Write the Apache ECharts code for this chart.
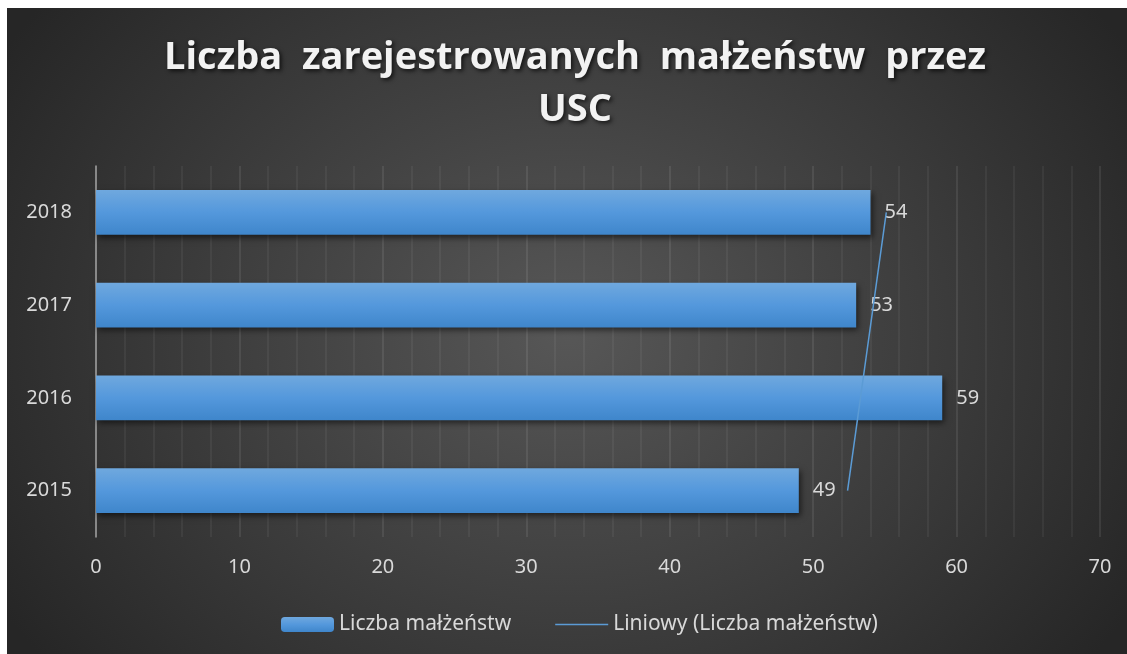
<!DOCTYPE html>
<html>
<head>
<meta charset="utf-8">
<script src="https://cdn.jsdelivr.net/npm/echarts@6/dist/echarts.min.js"></script>
<style>
  html, body { margin: 0; padding: 0; background: #fff; }
  #chart {
    position: absolute; left: 7px; top: 8px; width: 1120px; height: 646px;
    background: radial-gradient(660px 540px at 50% 50%, #575757 0%, #3a3a3a 60%, #262626 100%);
  }
</style>
</head>
<body>
<div id="chart"></div>
<script>
// dane
var years = ['2015', '2016', '2017', '2018'];
var marriages = [49, 59, 53, 54];
// linia trendu (liniowy)
var trend = [52.4, 53.3, 54.2, 55.1];
var xTicks = { min: 0, max: 70, step: 10 };

var chart = echarts.init(document.getElementById('chart'));

var labelColor = '#d9d9d9';
var font = 'Noto Sans';

var option = {
  backgroundColor: 'transparent',
  title: {
    text: 'Liczba  zarejestrowanych  małżeństw  przez\nUSC',
    left: 563,
    textAlign: 'center',
    top: 19,
    textStyle: {
      fontFamily: 'Open Sans',
      fontWeight: 'bold',
      fontSize: 38,
      lineHeight: 52,
      color: '#f2f2f2',
      textShadowColor: 'rgba(0,0,0,0.7)',
      textShadowBlur: 4,
      textShadowOffsetX: 2,
      textShadowOffsetY: 2
    }
  },
  legend: {
    bottom: 14,
    left: 269,
    itemWidth: 53,
    itemHeight: 15,
    itemGap: 44,
    textStyle: { color: labelColor, fontSize: 21, fontFamily: font },
    data: [
      { name: 'Liczba małżeństw' },
      { name: 'Liniowy (Liczba małżeństw)', icon: 'path://M0,0H53V1.6H0Z' }
    ]
  },
  grid: { left: 89, right: 27, top: 158, bottom: 117, containLabel: false },
  xAxis: {
    type: 'value',
    min: xTicks.min,
    max: xTicks.max,
    interval: xTicks.step,
    axisLine: { show: false },
    axisTick: { show: false },
    axisLabel: { color: labelColor, fontSize: 20, fontFamily: font, margin: 20 },
    splitLine: { show: true, lineStyle: { color: 'rgba(255,255,255,0.11)', width: 1.5 } },
    minorTick: { show: false, splitNumber: 5 },
    minorSplitLine: { show: true, lineStyle: { color: 'rgba(255,255,255,0.07)', width: 1.5 } }
  },
  yAxis: {
    type: 'category',
    data: years,
    axisLine: { show: true, lineStyle: { color: '#a0a0a0', width: 1.5 } },
    axisTick: { show: false },
    axisLabel: { color: labelColor, fontSize: 20, fontFamily: font, margin: 24 }
  },
  series: [
    {
      name: 'Liczba małżeństw',
      type: 'bar',
      data: marriages,
      barWidth: '48%',
      itemStyle: {
        color: new echarts.graphic.LinearGradient(0, 0, 0, 1, [
          { offset: 0, color: '#6fa8de' },
          { offset: 0.5, color: '#5498dc' },
          { offset: 1, color: '#3f86cb' }
        ]),
        shadowColor: 'rgba(0,0,0,0.55)',
        shadowBlur: 6,
        shadowOffsetX: 2,
        shadowOffsetY: 3
      },
      label: {
        show: true,
        position: 'right',
        distance: 14,
        color: labelColor,
        fontSize: 20,
        fontFamily: font
      },
      z: 2
    },
    {
      name: 'Liniowy (Liczba małżeństw)',
      type: 'line',
      data: trend,
      symbol: 'none',
      lineStyle: { color: '#5b9bd5', width: 1.5 },
      itemStyle: { color: '#5b9bd5' },
      z: 3
    }
  ]
};

chart.setOption(option);
</script>
</body>
</html>
